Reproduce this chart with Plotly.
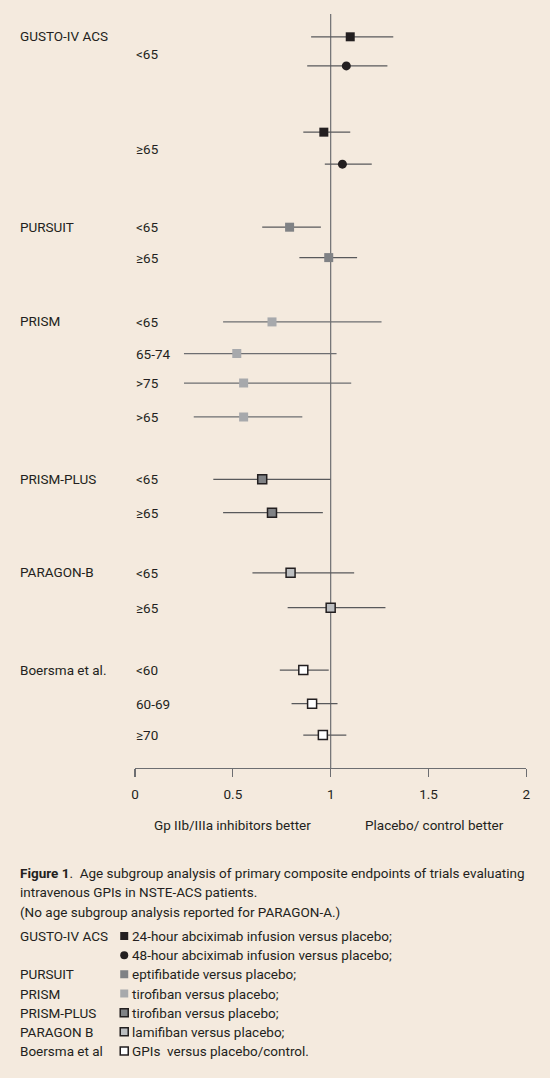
import plotly.graph_objects as go

# Forest plot rows (top to bottom)
row_style = ['gusto24', 'gusto48', 'gusto24', 'gusto48', 'pursuit', 'pursuit',
             'prism', 'prism', 'prism', 'prism', 'prismplus', 'prismplus',
             'paragon', 'paragon', 'boersma', 'boersma', 'boersma']
row_y = [22.85, 21.94, 19.87, 18.87, 16.90, 15.95, 13.94, 12.95, 12.03, 10.97,
         9.02, 7.98, 6.10, 5.01, 3.06, 2.01, 1.03]
estimate = [1.10, 1.08, 0.965, 1.06, 0.79, 0.99, 0.70, 0.52, 0.555, 0.555,
            0.65, 0.70, 0.795, 1.00, 0.86, 0.905, 0.96]
ci_low = [0.90, 0.88, 0.86, 0.97, 0.65, 0.84, 0.45, 0.25, 0.25, 0.30,
          0.40, 0.45, 0.60, 0.78, 0.74, 0.80, 0.86]
ci_high = [1.32, 1.29, 1.10, 1.21, 0.95, 1.135, 1.26, 1.03, 1.105, 0.855,
           1.00, 0.96, 1.12, 1.28, 0.99, 1.035, 1.08]

study_labels = ['GUSTO-IV ACS', 'PURSUIT', 'PRISM', 'PRISM-PLUS', 'PARAGON-B', 'Boersma et al.']
study_y = [22.88, 16.92, 13.98, 9.02, 6.12, 3.06]

age_labels = ['<65', '≥65', '<65', '≥65', '<65', '65-74', '>75', '>65',
              '<65', '≥65', '<65', '≥65', '<60', '60-69', '≥70']
age_y = [22.30, 19.33, 16.90, 15.95, 13.94, 12.95, 12.03, 10.97,
         9.02, 7.98, 6.10, 5.01, 3.06, 2.01, 1.03]

tick_vals = [0, 0.5, 1, 1.5, 2]
tick_text = ['0', '0.5', '1', '1.5', '2']

caption_lines = [
    '<b>Figure 1</b>.  Age subgroup analysis of primary composite endpoints of trials evaluating',
    'intravenous GPIs in NSTE-ACS patients.',
    '(No age subgroup analysis reported for PARAGON-A.)',
]

legend_study = ['GUSTO-IV ACS', '', 'PURSUIT', 'PRISM', 'PRISM-PLUS', 'PARAGON B', 'Boersma et al']
legend_style = ['gusto24', 'gusto48', 'pursuit', 'prism', 'prismplus', 'paragon', 'boersma']
legend_text = ['24-hour abciximab infusion versus placebo;',
               '48-hour abciximab infusion versus placebo;',
               'eptifibatide versus placebo;',
               'tirofiban versus placebo;',
               'tirofiban versus placebo;',
               'lamifiban versus placebo;',
               'GPIs  versus placebo/control.']

INK = '#231F20'
BG = '#F4EADE'
FONT = 'Roboto, sans-serif'
W, H = 550, 1078

styles = {
    'gusto24': dict(symbol='square', size=9, color=INK, line=dict(width=0)),
    'gusto48': dict(symbol='circle', size=9, color=INK, line=dict(width=0)),
    'pursuit': dict(symbol='square', size=9, color='#808285', line=dict(width=0)),
    'prism': dict(symbol='square', size=9, color='#A7A9AC', line=dict(width=0)),
    'prismplus': dict(symbol='square', size=9, color='#808285', line=dict(width=1.5, color=INK)),
    'paragon': dict(symbol='square', size=9, color='#BCBEC0', line=dict(width=1.5, color=INK)),
    'boersma': dict(symbol='square', size=9, color='white', line=dict(width=1.5, color=INK)),
}
ci_colors = {'prism': '#6D6E71'}

fig = go.Figure()

# one trace per marker style, CI as horizontal error bars
for key in styles:
    idx = [i for i, s in enumerate(row_style) if s == key]
    fig.add_trace(go.Scatter(
        x=[estimate[i] for i in idx],
        y=[row_y[i] for i in idx],
        mode='markers',
        marker=styles[key],
        error_x=dict(type='data', symmetric=False,
                     array=[ci_high[i] - estimate[i] for i in idx],
                     arrayminus=[estimate[i] - ci_low[i] for i in idx],
                     width=0, thickness=1.2,
                     color=ci_colors.get(key, '#58595B')),
        showlegend=False, hoverinfo='skip',
    ))

# legend markers on their own small axis
leg_marker = {k: dict(v, size=8) for k, v in styles.items()}
for i, key in enumerate(legend_style):
    fig.add_trace(go.Scatter(
        x=[0], y=[i], mode='markers', marker=leg_marker[key],
        xaxis='x2', yaxis='y2', showlegend=False, hoverinfo='skip',
    ))

# line of no effect
fig.add_shape(type='line', xref='x', yref='paper', x0=1, x1=1,
              y0=(H - 768) / H, y1=(H - 14) / H,
              line=dict(color='#6D6E71', width=1.2), layer='below')

for name, y in zip(study_labels, study_y):
    fig.add_annotation(x=14 / W, xref='paper', y=y, yref='y', text=name,
                       xanchor='left', yanchor='middle', showarrow=False)
for name, y in zip(age_labels, age_y):
    fig.add_annotation(x=132 / W, xref='paper', y=y, yref='y', text=name,
                       xanchor='left', yanchor='middle', showarrow=False)

fig.add_annotation(x=0.5, xref='x', y=(H - 825) / H, yref='paper',
                   text='Gp IIb/IIIa inhibitors better', showarrow=False, yanchor='middle')
fig.add_annotation(x=1.53, xref='x', y=(H - 825) / H, yref='paper',
                   text='Placebo/ control better', showarrow=False, yanchor='middle')

for i, line in enumerate(caption_lines):
    fig.add_annotation(x=14 / W, xref='paper', y=(H - 873.3 - 19.2 * i) / H, yref='paper',
                       text=line, xanchor='left', yanchor='middle', showarrow=False,
                       font=dict(size=13.5))

for i, (name, txt) in enumerate(zip(legend_study, legend_text)):
    if name:
        fig.add_annotation(x=14 / W, xref='paper', y=i, yref='y2', text=name,
                           xanchor='left', yanchor='middle', showarrow=False,
                           font=dict(size=13.5))
    fig.add_annotation(x=128 / W, xref='paper', y=i, yref='y2', text=txt,
                       xanchor='left', yanchor='middle', showarrow=False,
                       font=dict(size=13.5))

fig.update_layout(
    width=W, height=H,
    margin=dict(l=0, r=0, t=0, b=0),
    paper_bgcolor=BG, plot_bgcolor=BG,
    font=dict(family=FONT, size=13.5, color=INK),
    xaxis=dict(domain=[133 / W, 530 / W], range=[0, 2],
               tickvals=tick_vals, ticktext=tick_text,
               showgrid=False, zeroline=False,
               showline=True, linecolor='#6D6E71', linewidth=1.2,
               ticks='outside', ticklen=8, tickwidth=1.2, tickcolor='#6D6E71',
               ticklabelstandoff=6, fixedrange=True),
    yaxis=dict(domain=[(H - 768) / H, 1], range=[0, 24], visible=False, fixedrange=True),
    xaxis2=dict(domain=[116 / W, 128 / W], range=[-1, 1], visible=False,
                anchor='y2', fixedrange=True),
    yaxis2=dict(domain=[(H - 1060.6) / H, (H - 926.4) / H], range=[6.5, -0.5],
                visible=False, anchor='x2', fixedrange=True),
)

# drop the page's default body margin so the figure sits at the window origin
fig.write_html("out.html", config={'staticPlot': True},
               post_script="document.body.style.margin='0';"
                           "document.body.style.background='" + BG + "';")
